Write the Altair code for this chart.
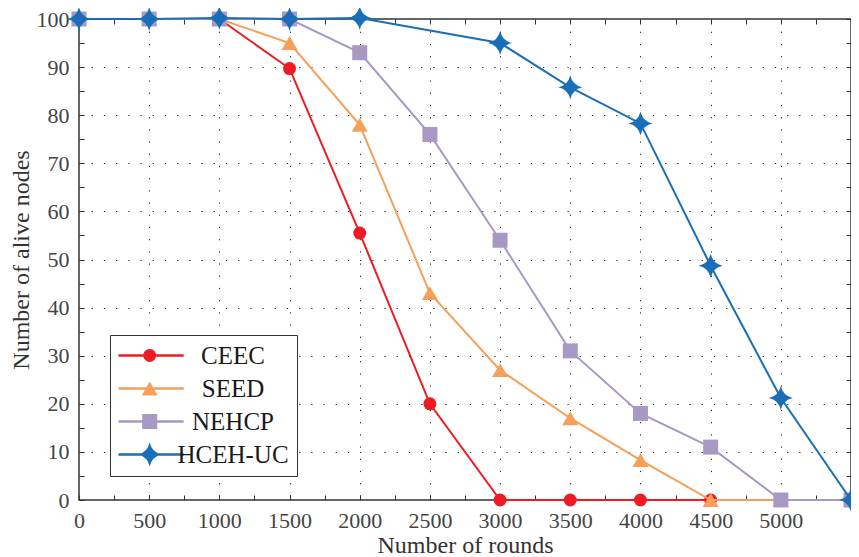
import altair as alt
import pandas as pd

series_names = ["CEEC", "SEED", "NEHCP", "HCEH-UC"]
series_colors = ["#ED1C24", "#F5A05A", "#A898C4", "#1A6EB7"]

ceec_x = [0, 500, 1000, 1500, 2000, 2500, 3000, 3500, 4000, 4500]
ceec_y = [100, 100, 100, 89.7, 55.5, 20, 0, 0, 0, 0]
seed_x = [0, 500, 1000, 1500, 2000, 2500, 3000, 3500, 4000, 4500, 5000]
seed_y = [100, 100, 100, 95, 78, 43, 27, 17, 8.3, 0, 0]
nehcp_x = [0, 500, 1000, 1500, 2000, 2500, 3000, 3500, 4000, 4500, 5000, 5500]
nehcp_y = [100, 100, 100, 100, 93, 76, 54, 31, 18, 11, 0, 0]
hceh_x = [0, 500, 1000, 1500, 2000, 3000, 3500, 4000, 4500, 5000, 5500]
hceh_y = [100, 100, 100.2, 100, 100.2, 95, 85.8, 78.3, 48.7, 21.2, 0]

x_ticks = list(range(0, 5501, 250))
x_grid = list(range(500, 5001, 500))
y_ticks = list(range(0, 101, 5))
y_grid = list(range(10, 91, 10))

STAR = "M0,-1 Q0.18,-0.18 1,0 Q0.18,0.18 0,1 Q-0.18,0.18 -1,0 Q-0.18,-0.18 0,-1 Z"
marker_shapes = ["circle", "triangle-up", "square", STAR]
marker_sizes = [169, 256, 225, 576]

# legend glyphs: line segment + marker, marker shifted right inside the symbol box
S = 2.4
def sh(v):
    return f"{v + S:.3f}"
LINE = f"M{sh(-3.9)},-0.15 L{sh(4.25)},-0.15 L{sh(4.25)},0.15 L{sh(-3.9)},0.15 Z "
legend_paths = [
    LINE + f"M{sh(-0.8)},0 A0.8,0.8 0 1,1 {sh(0.8)},0 A0.8,0.8 0 1,1 {sh(-0.8)},0 Z",
    LINE + f"M{sh(0)},-0.87 L{sh(1)},0.87 L{sh(-1)},0.87 Z",
    LINE + f"M{sh(-0.94)},-0.94 L{sh(0.94)},-0.94 L{sh(0.94)},0.94 L{sh(-0.94)},0.94 Z",
    LINE + f"M{sh(0)},-1.5 Q{sh(0.27)},-0.27 {sh(1.5)},0 Q{sh(0.27)},0.27 {sh(0)},1.5 "
           f"Q{sh(-0.27)},0.27 {sh(-1.5)},0 Q{sh(-0.27)},-0.27 {sh(0)},-1.5 Z",
]

rows = []
for name, xs, ys in [("CEEC", ceec_x, ceec_y), ("SEED", seed_x, seed_y),
                     ("NEHCP", nehcp_x, nehcp_y), ("HCEH-UC", hceh_x, hceh_y)]:
    for xv, yv in zip(xs, ys):
        rows.append({"series": name, "rounds": xv, "nodes": yv})
df = pd.DataFrame(rows)

FONT = "Liberation Serif"
x_scale = alt.Scale(domain=[0, 5500], nice=False, zero=False)
y_scale = alt.Scale(domain=[0, 100], nice=False, zero=False)

grid_common = dict(grid=True, gridDash=[1.2, 11], gridColor="#222", gridWidth=1,
                   ticks=False, labels=False, domain=False, title=None)
x_grid_axis = alt.Axis(orient="bottom", values=x_grid, **grid_common)
y_grid_axis = alt.Axis(orient="left", values=y_grid, **grid_common)

tick_common = dict(grid=False, domain=False, ticks=True, tickSize=5, offset=-5,
                   tickColor="#333", tickWidth=1)
x_bottom_axis = alt.Axis(orient="bottom", values=x_ticks, format="d",
                         labelExpr="datum.value % 500 === 0 && datum.value <= 5000 ? datum.label : ''",
                         labelFont=FONT, labelFontSize=22, labelColor="#444", labelPadding=10,
                         labelOverlap=False, labelFlush=False,
                         title="Number of rounds", titleFont=FONT, titleFontSize=24,
                         titleFontWeight="normal", titleColor="#333", titlePadding=2,
                         **tick_common)
y_left_axis = alt.Axis(orient="left", values=y_ticks, format="d",
                       labelExpr="datum.value % 10 === 0 ? datum.label : ''",
                       labelFont=FONT, labelFontSize=22, labelColor="#444", labelPadding=10,
                       labelOverlap=False, labelFlush=False,
                       title="Number of alive nodes", titleFont=FONT, titleFontSize=24,
                       titleFontWeight="normal", titleColor="#333", titlePadding=3,
                       **tick_common)
x_top_axis = alt.Axis(orient="top", values=x_ticks, labels=False, title=None, **tick_common)
y_right_axis = alt.Axis(orient="right", values=y_ticks, labels=False, title=None, **tick_common)

layers = []
for i, name in enumerate(series_names):
    if i == 0:
        lx, ly, px, py = x_grid_axis, y_grid_axis, x_bottom_axis, y_left_axis
    elif i == 1:
        lx, ly, px, py = x_top_axis, y_right_axis, None, None
    else:
        lx, ly, px, py = None, None, None, None
    base = alt.Chart(df).transform_filter(alt.datum.series == name)
    line = base.mark_line(color=series_colors[i], strokeWidth=2, clip=False).encode(
        x=alt.X("rounds:Q", scale=x_scale, axis=lx),
        y=alt.Y("nodes:Q", scale=y_scale, axis=ly),
    )
    pts = base.mark_point(shape=marker_shapes[i], filled=True, size=marker_sizes[i],
                          color=series_colors[i], opacity=1, clip=False).encode(
        x=alt.X("rounds:Q", scale=x_scale, axis=px),
        y=alt.Y("nodes:Q", scale=y_scale, axis=py),
    )
    layers += [line, pts]

leg = alt.Legend(title=None, orient="none", legendX=31, legendY=316,
                 symbolSize=256, symbolStrokeWidth=0, symbolOpacity=1,
                 labelFont=FONT, labelFontSize=25, labelColor="#1a1a1a",
                 labelAlign="center", labelOffset=90, labelLimit=300,
                 padding=8, rowPadding=7, strokeColor="#333", fillColor="white",
                 cornerRadius=0)
legend_layer = alt.Chart(df).mark_point(filled=True, opacity=0).encode(
    x=alt.X("rounds:Q", scale=x_scale, axis=None),
    y=alt.Y("nodes:Q", scale=y_scale, axis=None),
    color=alt.Color("series:N", scale=alt.Scale(domain=series_names, range=series_colors), legend=leg),
    shape=alt.Shape("series:N", scale=alt.Scale(domain=series_names, range=legend_paths), legend=leg),
)
layers.append(legend_layer)

chart = alt.layer(*layers).properties(
    width=772, height=481,
    autosize=alt.AutoSizeParams(type="none"),
    padding={"left": 71, "top": 11, "right": 0, "bottom": 64},
    background="white",
).resolve_axis(x="independent", y="independent").configure_view(
    stroke="#333", strokeWidth=1.5
)

chart.save("out.html", embed_options={"renderer": "svg", "actions": False})
